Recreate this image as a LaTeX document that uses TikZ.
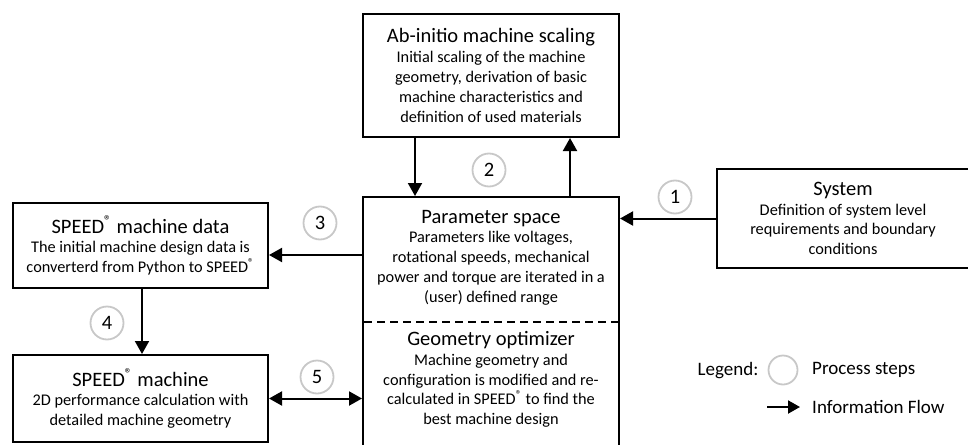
\documentclass[tikz,border=0pt]{standalone}
\usepackage{fontspec}
\setmainfont{Carlito}
\usetikzlibrary{arrows.meta}
\definecolor{stepgray}{RGB}{200,200,200}
\newcommand\ttlf{\fontsize{20.5}{20}\selectfont}
\newcommand\bdyf{\fontsize{16.3}{19.8}\selectfont}
\newcommand\regm{\textsuperscript{\textregistered}}
\tikzset{
  boxnode/.style={draw, line width=2pt, rectangle, inner sep=0pt, align=center, font=\bdyf},
  txtnode/.style={align=center, inner sep=0pt, font=\bdyf},
  stepcircle/.style={circle, draw=stepgray, line width=1.8pt, minimum size=33pt, inner sep=0pt, font=\ttlf},
  legtext/.style={font=\fontsize{19}{20}\selectfont, inner sep=0pt},
  flow/.style={line width=2pt, -{Triangle[length=13pt,width=14pt]}},
  flowboth/.style={line width=2pt, {Triangle[length=13pt,width=14pt]}-{Triangle[length=13pt,width=14pt]}},
}
\begin{document}
\begin{tikzpicture}[x=1pt,y=-1pt]
\useasboundingbox (0,0) rectangle (968,444);
\clip (0,0) rectangle (968,444);
% boxes
\node[boxnode, minimum width=256pt, minimum height=123pt] (ab) at (491,75.5)
  {{\ttlf Ab-initio machine scaling}\\ Initial scaling of the machine\\ geometry, derivation of basic\\ machine characteristics and\\ definition of used materials};
\node[boxnode, minimum width=256pt, minimum height=290pt] (param) at (491,342) {};
\node[txtnode] (paramtxt) at (491,257.5)
  {{\ttlf Parameter space}\\ Parameters like voltages,\\ rotational speeds, mechanical\\ power and torque are iterated in a\\ (user) defined range};
\node[txtnode] (geomtxt) at (491,379.5)
  {{\ttlf Geometry optimizer}\\ Machine geometry and\\ configuration is modified and re-\\ calculated in SPEED\regm{} to find the\\ best machine design};
\coordinate (dl) at (364,322);
\coordinate (dr) at (619,322);
\draw[line width=2pt, dash pattern=on 8pt off 5pt] (dl) -- (dr);
\node[boxnode, minimum width=252pt, minimum height=99pt] (sys) at (843,218.5)
  {{\ttlf System}\\ Definition of system level\\ requirements and boundary\\ conditions};
\node[boxnode, minimum width=255pt, minimum height=85pt] (spd) at (140.5,245.5)
  {{\ttlf SPEED\regm{} machine data}\\ The initial machine design data is\\ converterd from Python to SPEED\regm};
\node[boxnode, minimum width=255pt, minimum height=87pt] (mach) at (140.5,398.5)
  {{\ttlf SPEED\regm{} machine}\\ 2D performance calculation with\\ detailed machine geometry};
% connectors
\draw[flow] ([xshift=-76pt]ab.south) -- ([xshift=-76pt]ab.south |- param.north);
\draw[flow] ([xshift=79pt]ab.south |- param.north) -- ([xshift=79pt]ab.south);
\draw[flow] (sys.west) -- (sys.west -| param.east);
\draw[flow] ([yshift=-9.5pt]spd.east -| param.west) -- ([yshift=-9.5pt]spd.east);
\draw[flow] ([xshift=1.5pt]spd.south) -- ([xshift=1.5pt]spd.south |- mach.north);
\draw[flowboth] (mach.east) -- (mach.east -| param.west);
% process steps
\node[stepcircle] (s1) at (675,197) {1};
\node[stepcircle] (s2) at (489,170) {2};
\node[stepcircle] (s3) at (320,223) {3};
\node[stepcircle] (s4) at (107,323) {4};
\node[stepcircle] (s5) at (317,377) {5};
% legend
\node[legtext] (leg) at (728,371) {Legend:};
\node[circle, draw=stepgray, line width=1.8pt, minimum size=29pt, inner sep=0pt] (legc) at (783,370) {};
\node[legtext, anchor=west] (legp) at (812,370) {Process steps};
\node[legtext, anchor=west] (legi) at (812,407) {Information Flow};
\coordinate (la) at (767,407);
\coordinate (lb) at (800,407);
\draw[line width=2pt, -{Triangle[length=12pt,width=13pt]}] (la) -- (lb);
\end{tikzpicture}
\end{document}
